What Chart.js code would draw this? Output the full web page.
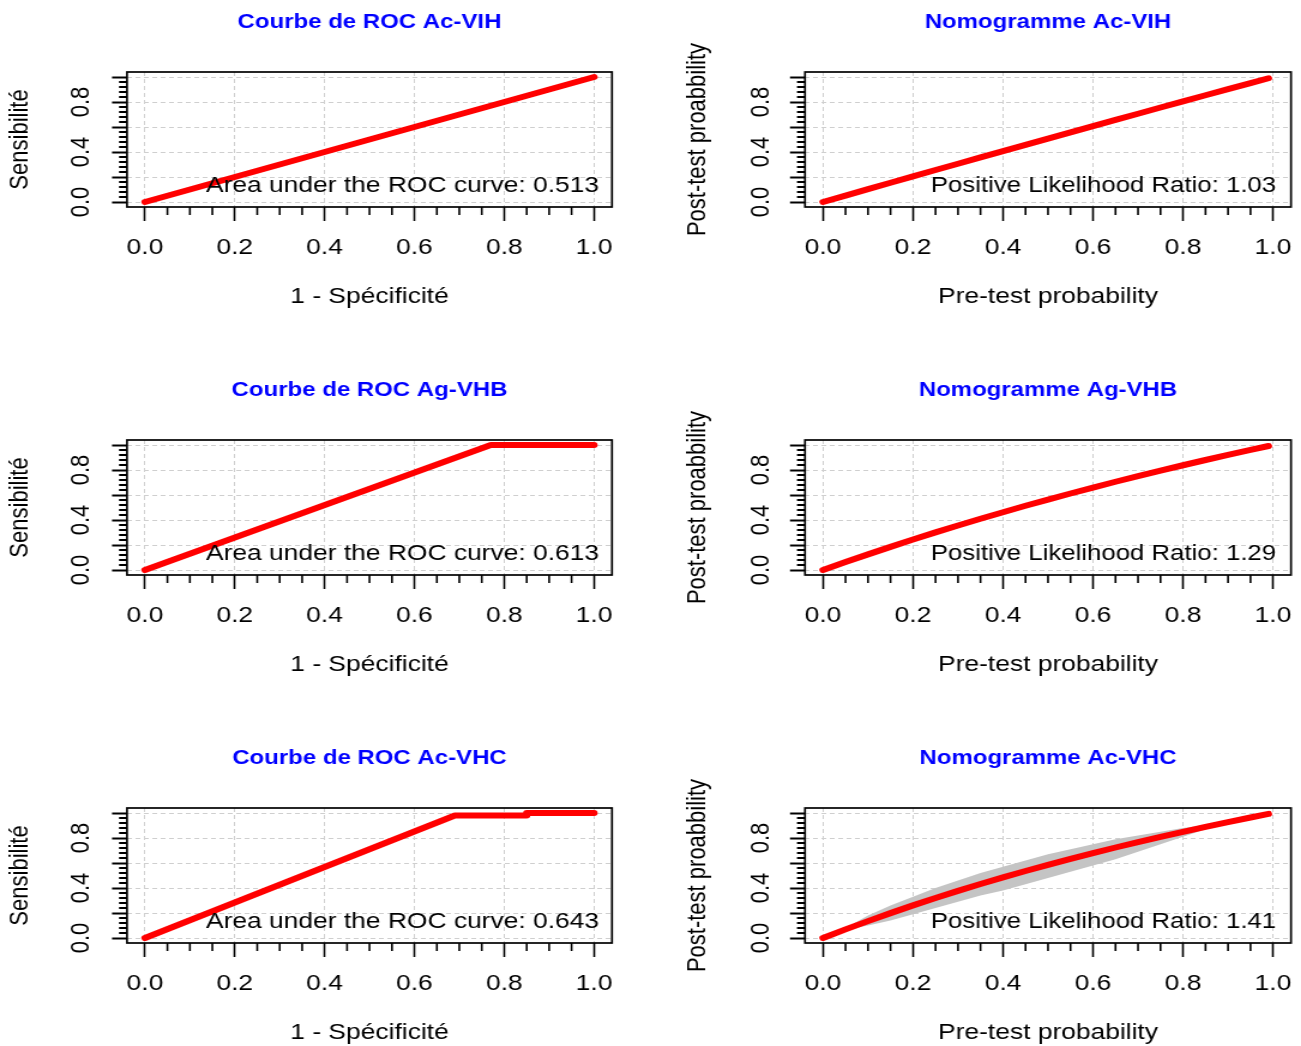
<!DOCTYPE html>
<html>
<head>
<meta charset="utf-8">
<script src="https://cdn.jsdelivr.net/npm/chart.js@4.4.1/dist/chart.umd.min.js"></script>
<style>
html,body{margin:0;padding:0;background:#fff;width:1301px;height:1046px;overflow:hidden;position:relative;}
canvas{position:absolute;display:block;}
</style>
</head>
<body>
<canvas id="p0"></canvas>
<canvas id="p1"></canvas>
<canvas id="p2"></canvas>
<canvas id="p3"></canvas>
<canvas id="p4"></canvas>
<canvas id="p5"></canvas>
<script>
// ---------------- DATA ----------------
const panelTitles = ["Courbe de ROC Ac-VIH","Nomogramme Ac-VIH","Courbe de ROC Ag-VHB","Nomogramme Ag-VHB","Courbe de ROC Ac-VHC","Nomogramme Ac-VHC"];
const rocXTitle = "1 - Spécificité";
const rocYTitle = "Sensibilité";
const nomoXTitle = "Pre-test probability";
const nomoYTitle = "Post-test proabbility";
const rocNotes = ["Area under the ROC curve: 0.513","Area under the ROC curve: 0.613","Area under the ROC curve: 0.643"];
const nomoNotes = ["Positive Likelihood Ratio: 1.03","Positive Likelihood Ratio: 1.29","Positive Likelihood Ratio: 1.41"];

// ROC curves (1 - specificity, sensitivity)
const rocVIH_x = [0, 1];
const rocVIH_y = [0, 1];
const rocVHB_x = [0, 0.77, 1];
const rocVHB_y = [0, 1, 1];
const rocVHC_x = [0, 0.69, 0.85, 0.85, 1];
const rocVHC_y = [0, 0.98, 0.98, 1, 1];

// Nomograms (pre-test, post-test)
const preTest = [0, 0.05, 0.1, 0.15, 0.2, 0.25, 0.3, 0.35, 0.4, 0.45, 0.5, 0.55, 0.6, 0.65, 0.7, 0.75, 0.8, 0.85, 0.9, 0.95, 0.99];
const postVIH = [0, 0.051, 0.103, 0.154, 0.205, 0.256, 0.306, 0.357, 0.407, 0.457, 0.507, 0.557, 0.607, 0.657, 0.706, 0.756, 0.805, 0.854, 0.903, 0.951, 0.990];
const postVHB = [0, 0.064, 0.125, 0.185, 0.244, 0.301, 0.356, 0.410, 0.462, 0.514, 0.563, 0.612, 0.659, 0.706, 0.751, 0.795, 0.838, 0.880, 0.921, 0.961, 0.992];
const postVHC = [0, 0.069, 0.135, 0.199, 0.261, 0.320, 0.377, 0.432, 0.485, 0.536, 0.585, 0.633, 0.679, 0.724, 0.767, 0.809, 0.849, 0.889, 0.927, 0.964, 0.993];
// Confidence band (Ac-VHC nomogram)
const bandX    = [0.07, 0.10, 0.15, 0.20, 0.25, 0.30, 0.35, 0.40, 0.45, 0.50, 0.55, 0.60, 0.65, 0.70, 0.75, 0.80, 0.85, 0.88];
const bandHigh = [0.12, 0.18, 0.26, 0.33, 0.40, 0.46, 0.52, 0.57, 0.62, 0.67, 0.71, 0.75, 0.79, 0.82, 0.85, 0.88, 0.905, 0.915];
const bandLow  = [0.08, 0.10, 0.14, 0.19, 0.24, 0.29, 0.34, 0.38, 0.43, 0.48, 0.53, 0.58, 0.63, 0.69, 0.75, 0.81, 0.87, 0.905];

// Tick values
const majorTicks = [0, 0.2, 0.4, 0.6, 0.8, 1.0];
const yLabelTicks = [0, 0.4, 0.8];
const xMinorTicks = [0.05,0.1,0.15,0.25,0.3,0.35,0.45,0.5,0.55,0.65,0.7,0.75,0.85,0.9,0.95];
const yMinorTicks = [0.04,0.08,0.12,0.16,0.24,0.28,0.32,0.36,0.44,0.48,0.52,0.56,0.64,0.68,0.72,0.76,0.84,0.88,0.92,0.96];

// ---------------- LAYOUT / STYLE ----------------
const FONT = '"Liberation Sans", Arial, sans-serif';
const AXIS_MIN = -0.04, AXIS_MAX = 1.04;
const ROW_H = 368;
const AREA_BOTTOM = 207;
// all x-values below are local CSS px inside each column
const cols = [
  {cssLeft: 0,   cssW: 650, intW: 542, areaL: 127, areaR: 612, yTitleX: 20, yLabX: 82, noteSize: 22},
  {cssLeft: 650, cssW: 651, intW: 543, areaL: 155, areaR: 641, yTitleX: 48, yLabX: 111, noteSize: 21.5}
];
const RED = '#ff0000', GRID = '#cfcfcf', BAND = '#c4c4c4', TITLE_BLUE = '#0000ff';

function pts(xs, ys) { return xs.map((v, i) => ({x: v, y: ys[i]})); }

const rDecor = {
  id: 'rDecor',
  afterDatasetsDraw(chart, args, o) {
    const {ctx, scales: {x, y}} = chart;
    ctx.save();
    ctx.font = o.noteSize + 'px ' + FONT;
    ctx.fillStyle = '#000';
    ctx.textAlign = 'right';
    ctx.textBaseline = 'middle';
    ctx.fillText(o.note, x.getPixelForValue(o.noteX), y.getPixelForValue(o.noteY));
    ctx.restore();
  },
  afterDraw(chart, args, o) {
    const {ctx, chartArea: a, scales: {x, y}} = chart;
    ctx.save();
    ctx.strokeStyle = '#000';
    ctx.lineWidth = 1.6;
    ctx.beginPath();
    xMinorTicks.forEach(v => { const px = x.getPixelForValue(v); ctx.moveTo(px, a.bottom); ctx.lineTo(px, a.bottom + 8); });
    ctx.stroke();
    ctx.lineWidth = 2;
    ctx.beginPath();
    yMinorTicks.forEach(v => { const py = y.getPixelForValue(v); ctx.moveTo(a.left - 8 / o.k, py); ctx.lineTo(a.left, py); });
    ctx.stroke();
    ctx.lineWidth = 1.7;
    ctx.strokeRect(a.left, a.top, a.right - a.left, a.bottom - a.top);
    ctx.restore();
  }
};

function makePanel(idx, row, colIdx, datasets, xTitle, yTitle, note, noteX) {
  const c = cols[colIdx];
  const k = c.cssW / c.intW;
  const canvas = document.getElementById('p' + idx);
  canvas.width = c.intW; canvas.height = ROW_H;
  canvas.style.width = c.cssW + 'px'; canvas.style.height = ROW_H + 'px';
  canvas.style.left = c.cssLeft + 'px'; canvas.style.top = (row * ROW_H) + 'px';
  const areaL = c.areaL / k;
  const areaR = c.areaR / k;
  const yTick = 15 / k;
  const labW = 1.39 * 22; // width of "0.0"
  const yLabPad = areaL - yTick - labW / 2 - c.yLabX / k;
  const yTitlePad = c.yTitleX / k - 22 * 1.2 / 2;
  return new Chart(canvas, {
    type: 'scatter',
    data: {datasets},
    plugins: [rDecor],
    options: {
      responsive: false, animation: false, devicePixelRatio: 1,
      layout: {padding: {left: 0, top: 0, bottom: 0, right: c.intW - areaR}},
      plugins: {
        legend: {display: false}, tooltip: {enabled: false},
        title: {display: true, text: panelTitles[idx], color: TITLE_BLUE, fullSize: false,
          font: {family: FONT, size: 20, weight: 'bold'}, padding: {top: 10, bottom: 38}},
        rDecor: {note, noteX, noteY: 0.13, k, noteSize: c.noteSize}
      },
      scales: {
        x: {
          type: 'linear', min: AXIS_MIN, max: AXIS_MAX,
          afterBuildTicks: s => { s.ticks = majorTicks.map(v => ({value: v})); },
          afterFit: s => { s.height = ROW_H - AREA_BOTTOM; s.paddingLeft = 0; s.paddingRight = 0; },
          grid: {color: GRID, lineWidth: 1, drawTicks: true, tickLength: 14, tickColor: '#000', tickWidth: 1.6},
          border: {display: false, dash: [4, 3]},
          ticks: {color: '#000', font: {family: FONT, size: 22}, padding: 14, maxRotation: 0, minRotation: 0, autoSkip: false,
            callback: v => v.toFixed(1)},
          title: {display: true, text: xTitle, color: '#000', font: {family: FONT, size: 22}, padding: {top: 0, bottom: 71 - 13.2}}
        },
        y: {
          type: 'linear', min: AXIS_MIN, max: AXIS_MAX,
          afterBuildTicks: s => { s.ticks = majorTicks.map(v => ({value: v})); },
          afterFit: s => { s.width = areaL; s.paddingTop = 0; s.paddingBottom = 0; },
          grid: {color: GRID, lineWidth: 1, drawTicks: true, tickLength: yTick, tickColor: '#000', tickWidth: 2},
          border: {display: false, dash: [4, 3]},
          ticks: {color: '#000', font: {family: FONT, size: 22}, padding: yLabPad, minRotation: 90, maxRotation: 90,
            crossAlign: 'center', autoSkip: false,
            callback: v => yLabelTicks.includes(v) ? v.toFixed(1) : ''},
          title: {display: true, text: yTitle, color: '#000', font: {family: FONT, size: 22}, padding: {top: yTitlePad, bottom: 0}}
        }
      }
    }
  });
}

function redLine(data) {
  return {data, showLine: true, borderColor: RED, backgroundColor: RED, borderWidth: 6, pointRadius: 0,
    borderCapStyle: 'round', borderJoinStyle: 'round', tension: 0, fill: false};
}

makePanel(0, 0, 0, [redLine(pts(rocVIH_x, rocVIH_y))], rocXTitle, rocYTitle, rocNotes[0], 1.011);
makePanel(1, 0, 1, [redLine(pts(preTest, postVIH))], nomoXTitle, nomoYTitle, nomoNotes[0], 1.007);
makePanel(2, 1, 0, [redLine(pts(rocVHB_x, rocVHB_y))], rocXTitle, rocYTitle, rocNotes[1], 1.011);
makePanel(3, 1, 1, [redLine(pts(preTest, postVHB))], nomoXTitle, nomoYTitle, nomoNotes[1], 1.007);
makePanel(4, 2, 0, [redLine(pts(rocVHC_x, rocVHC_y))], rocXTitle, rocYTitle, rocNotes[2], 1.011);
makePanel(5, 2, 1, [
  redLine(pts(preTest, postVHC)),
  {data: pts(bandX, bandHigh), showLine: true, borderWidth: 0, borderColor: BAND, backgroundColor: BAND, pointRadius: 0, fill: '+1', tension: 0},
  {data: pts(bandX, bandLow), showLine: true, borderWidth: 0, borderColor: BAND, backgroundColor: BAND, pointRadius: 0, fill: false, tension: 0}
], nomoXTitle, nomoYTitle, nomoNotes[2], 1.007);
</script>
</body>
</html>
